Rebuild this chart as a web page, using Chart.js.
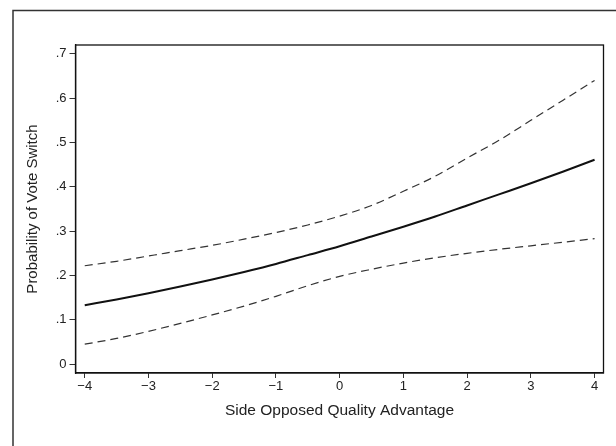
<!DOCTYPE html>
<html>
<head>
<meta charset="utf-8">
<script src="https://cdn.jsdelivr.net/npm/chart.js@4/dist/chart.umd.min.js"></script>
<style>
  body { margin: 0; background: #fff; }
  canvas { display: block; }
</style>
</head>
<body>
<canvas id="voteChart" width="616" height="446"></canvas>
<script>
// values
const advantage = [-4, -3.5, -3, -2.5, -2, -1.5, -1, -0.5, 0, 0.5, 1, 1.5, 2, 2.5, 3, 3.5, 4];
const probSwitch = [0.133, 0.146, 0.160, 0.175, 0.191, 0.208, 0.226, 0.246, 0.266, 0.288, 0.310, 0.333, 0.358, 0.383, 0.408, 0.434, 0.461];
const upperCI = [0.222, 0.232, 0.244, 0.256, 0.268, 0.282, 0.297, 0.314, 0.334, 0.358, 0.390, 0.424, 0.465, 0.505, 0.550, 0.595, 0.640];
const lowerCI = [0.045, 0.058, 0.074, 0.092, 0.111, 0.131, 0.153, 0.177, 0.198, 0.214, 0.228, 0.240, 0.250, 0.259, 0.267, 0.275, 0.283];
const xTicks = [-4, -3, -2, -1, 0, 1, 2, 3, 4];
const yTicks = [0, 0.1, 0.2, 0.3, 0.4, 0.5, 0.6, 0.7];

function toPoints(ys) {
    return advantage.map((x, i) => ({ x: x, y: ys[i] }));
}

// outer frame and plot box, Stata style
const framePlugin = {
    id: 'frame',
    beforeDraw(chart) {
        const ctx = chart.ctx;
        ctx.save();
        ctx.fillStyle = '#fff';
        ctx.fillRect(0, 0, chart.width, chart.height);
        ctx.strokeStyle = '#333';
        ctx.lineWidth = 1.5;
        ctx.strokeRect(13, 10.5, 640, 480);
        ctx.restore();
    },
    afterDraw(chart) {
        const a = chart.chartArea;
        const ctx = chart.ctx;
        ctx.save();
        ctx.strokeStyle = '#111';
        ctx.lineWidth = 1.3;
        ctx.strokeRect(a.left, a.top, a.right - a.left, a.bottom - a.top);
        ctx.restore();
    }
};

const tickFont = { family: "'Liberation Sans', Arial, sans-serif", size: 13 };

new Chart(document.getElementById('voteChart').getContext('2d'), {
    type: 'scatter',
    data: {
        datasets: [{
            label: 'Upper',
            data: toPoints(upperCI),
            showLine: true,
            borderColor: '#333',
            borderWidth: 1.2,
            borderDash: [8, 5],
            pointRadius: 0,
            cubicInterpolationMode: 'monotone'
        }, {
            label: 'Probability',
            data: toPoints(probSwitch),
            showLine: true,
            borderColor: '#111',
            borderWidth: 2,
            pointRadius: 0,
            cubicInterpolationMode: 'monotone'
        }, {
            label: 'Lower',
            data: toPoints(lowerCI),
            showLine: true,
            borderColor: '#333',
            borderWidth: 1.2,
            borderDash: [8, 5],
            pointRadius: 0,
            cubicInterpolationMode: 'monotone'
        }]
    },
    options: {
        responsive: false,
        animation: false,
        layout: { padding: { top: 45, right: 12.5, left: 0, bottom: 0 } },
        plugins: {
            legend: { display: false },
            tooltip: { enabled: false }
        },
        scales: {
            x: {
                type: 'linear',
                min: -4.145,
                max: 4.14,
                afterBuildTicks: function(scale) {
                    scale.ticks = xTicks.map(v => ({ value: v }));
                },
                afterFit: function(scale) { scale.height = 73; },
                grid: { drawOnChartArea: false, tickLength: 5, color: '#333', lineWidth: 1 },
                border: { display: true, color: '#111', width: 1.3 },
                ticks: {
                    color: '#222',
                    font: tickFont,
                    padding: 1,
                    maxRotation: 0,
                    callback: function(v) { return v < 0 ? '\u2212' + Math.abs(v) : String(v); }
                },
                title: {
                    display: true,
                    text: 'Side Opposed Quality Advantage',
                    color: '#222',
                    font: { family: "'Liberation Sans', Arial, sans-serif", size: 15.5 },
                    padding: { top: 0, bottom: 26 }
                }
            },
            y: {
                min: -0.02,
                max: 0.72,
                afterBuildTicks: function(scale) {
                    scale.ticks = yTicks.map(v => ({ value: v }));
                },
                afterFit: function(scale) { scale.width = 75.5; },
                grid: { drawOnChartArea: false, tickLength: 6, color: '#333', lineWidth: 1 },
                border: { display: true, color: '#111', width: 1.3 },
                ticks: {
                    color: '#222',
                    font: tickFont,
                    padding: 3,
                    callback: function(v) {
                        return v === 0 ? '0' : '.' + Math.round(v * 10);
                    }
                },
                title: {
                    display: true,
                    text: 'Probability of Vote Switch',
                    color: '#222',
                    font: { family: "'Liberation Sans', Arial, sans-serif", size: 15 },
                    padding: { top: 24, bottom: 0 }
                }
            }
        }
    },
    plugins: [framePlugin]
});
</script>
</body>
</html>
